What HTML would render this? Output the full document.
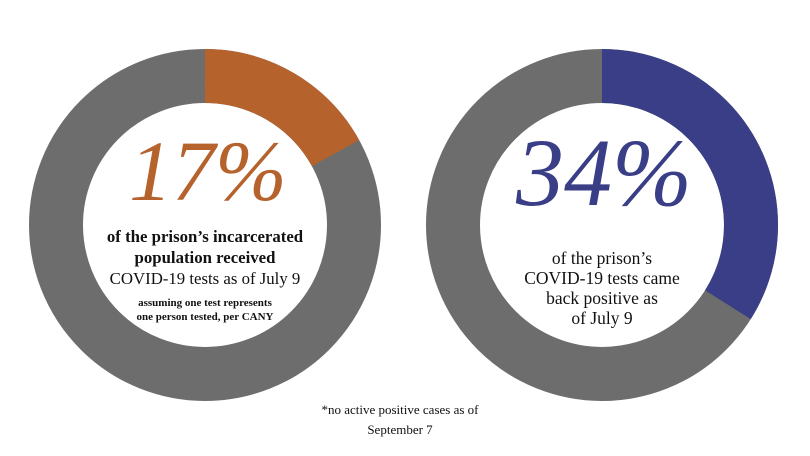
<!DOCTYPE html>
<html><head><style>
body{margin:0;background:#fff;}
svg text{font-family:"Liberation Serif",serif;}
</style></head><body>
<svg width="810" height="451" viewBox="0 0 810 451">
<rect width="810" height="451" fill="#fff"/>
<circle cx="205" cy="225" r="149" fill="none" stroke="#6d6d6d" stroke-width="54"/>
<circle cx="205" cy="225" r="149" fill="none" stroke="#b5622d" stroke-width="54"
 stroke-dasharray="159 1000" transform="rotate(-90 205 225)"/>
<circle cx="602" cy="225" r="149" fill="none" stroke="#6d6d6d" stroke-width="54"/>
<circle cx="602" cy="225" r="149" fill="none" stroke="#393e86" stroke-width="54"
 stroke-dasharray="318 1000" transform="rotate(-90 602 225)"/>

<text x="208" y="200" text-anchor="middle" font-size="86" font-style="italic" fill="#b5622d">17%</text>
<g text-anchor="middle" fill="#111" font-size="16.8" font-weight="bold">
<text x="205" y="242">of the prison’s incarcerated</text>
<text x="205" y="263">population received</text>
<text x="205" y="284" font-weight="normal">COVID-19 tests as of July 9</text>
</g>
<g text-anchor="middle" fill="#111" font-size="11" font-weight="bold">
<text x="205" y="306">assuming one test represents</text>
<text x="205" y="320">one person tested, per CANY</text>
</g>

<text x="604" y="205" text-anchor="middle" font-size="96" font-style="italic" fill="#393e86">34%</text>
<g text-anchor="middle" fill="#111" font-size="17.5">
<text x="602" y="264">of the prison’s</text>
<text x="602" y="284">COVID-19 tests came</text>
<text x="602" y="304">back positive as</text>
<text x="602" y="324">of July 9</text>
</g>

<g text-anchor="middle" fill="#111" font-size="13">
<text x="400" y="414">*no active positive cases as of</text>
<text x="400" y="434">September 7</text>
</g>
</svg>
</body></html>
